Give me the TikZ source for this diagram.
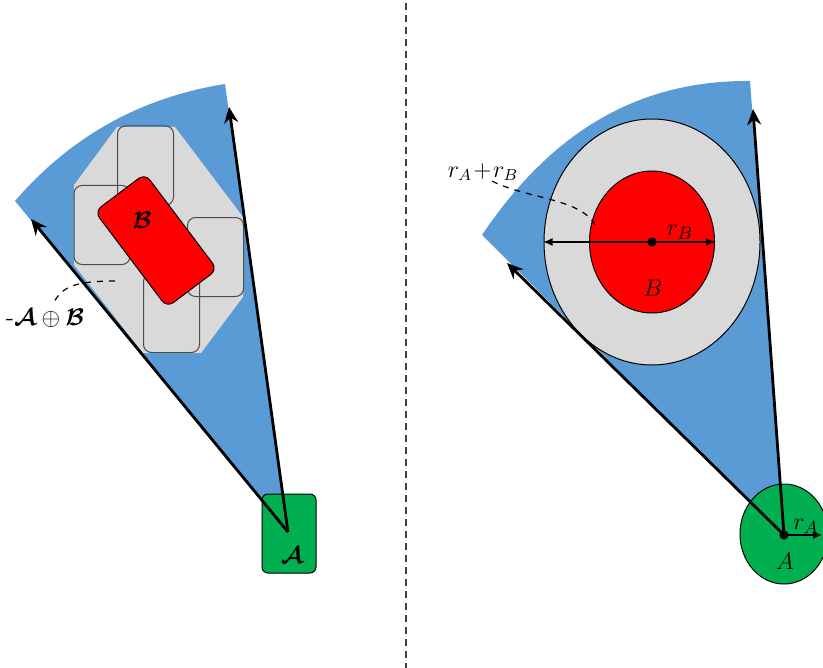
\documentclass[tikz,border=0pt]{standalone}
\usepackage{amsmath}
\usepackage{amssymb}
\usepackage{xcolor}
\usepackage{tikz}
\usetikzlibrary{shapes.geometric, arrows.meta, positioning, calc}

\definecolor{coneblue}{HTML}{5B9BD5}
\definecolor{sumgrey}{HTML}{D9D9D9}
\definecolor{obsred}{HTML}{FF0000}
\definecolor{agentgreen}{HTML}{00B050}

\begin{document}
\begin{tikzpicture}[
    x=0.5pt, y=-0.5pt,
    every node/.style={inner sep=0pt, font=\fontsize{12.5}{15}\selectfont},
    vec/.style={-{Stealth[length=8pt, width=7pt]}, line width=1.4pt},
    dim/.style={{Latex[length=4.5pt, width=4pt]}-{Latex[length=4.5pt, width=4pt]}, line width=0.6pt},
    lead/.style={dashed, line width=0.6pt},
    ghost/.style={draw=black!70, line width=0.5pt, rounded corners=4pt, minimum width=28pt, minimum height=39.5pt},
  ]
  \useasboundingbox (0,0) rectangle (823,668);

  % Left: velocity cone
  \coordinate (apexL) at (288,532);
  \coordinate (edgeL1) at (15,201);
  \coordinate (edgeL2) at (225,84);
  \fill[coneblue] (apexL) -- (edgeL1) .. controls (70.7,136.4) and (140.7,97.4) .. (edgeL2) -- cycle;

  % Minkowski sum
  \fill[sumgrey] (74,185) -- (117,127) -- (175,127) -- (243,217) -- (243,297)
    -- (201,353) -- (143,353) -- (74,265) -- cycle;
  \node[ghost] (ghostTop) at (145.5,165.5) {};
  \node[ghost] (ghostLeft) at (102,225) {};
  \node[ghost] (ghostRight) at (215.5,257) {};
  \node[ghost] (ghostBot) at (171.5,313) {};

  % Obstacle B
  \node[draw=black, line width=0.5pt, fill=obsred, rounded corners=4pt,
    minimum width=31.5pt, minimum height=60pt, rotate=37] (obsL) at (156,240.5) {};
  \node[font=\fontsize{13}{15}\selectfont] (labBL) at (142,220) {$\boldsymbol{\mathcal{B}}$};

  % Agent A
  \node[draw=black, line width=0.5pt, fill=agentgreen, rounded corners=3pt,
    minimum width=27pt, minimum height=39.5pt] (agentL) at (289,533.5) {};
  \node (labAL) at (292,555) {$\boldsymbol{\mathcal{A}}$};

  % Cone edges
  \coordinate (tipL1) at (229,107);
  \coordinate (tipL2) at (31,219);
  \draw[vec] (apexL) -- (tipL1);
  \draw[vec] (apexL) -- (tipL2);

  % Label
  \node (labMink) at (45,318) {-$\boldsymbol{\mathcal{A}}\oplus\boldsymbol{\mathcal{B}}$};
  \coordinate (leadL) at (120,281);
  \draw[lead] ([xshift=5pt, yshift=4pt]labMink.north) .. controls (65,283) and (85,281) .. (leadL);

  % Separator
  \draw[black!75, line width=0.6pt, dash pattern=on 3.5pt off 2.5pt] (406,3) -- (406,668);

  % Right: velocity cone
  \coordinate (apexR) at (784,535);
  \coordinate (edgeR1) at (482,235);
  \coordinate (edgeR2) at (750,81);
  \fill[coneblue] (apexR) -- (edgeR1) .. controls (546,140) and (630,80) .. (edgeR2) -- cycle;

  % Discs
  \node[draw, ellipse, line width=0.5pt, fill=sumgrey, minimum width=108pt, minimum height=123pt] (ringB) at (652,242) {};
  \node[draw, ellipse, line width=0.5pt, fill=obsred, minimum width=62.5pt, minimum height=71pt] (obsR) at (652,242) {};
  \node[draw, ellipse, line width=0.5pt, fill=agentgreen, minimum width=44pt, minimum height=50pt] (agentR) at (784,534) {};

  % Cone edges
  \coordinate (tipR1) at (753,109);
  \coordinate (tipR2) at (507,263);
  \draw[vec] (apexR) -- (tipR1);
  \draw[vec] (apexR) -- (tipR2);

  % Radii
  \draw[dim] (ringB.west) -- (obsR.east);
  \fill (obsR.center) circle (2.3pt);
  \fill (apexR) circle (2.3pt);
  \coordinate (rAend) at (822,535);
  \draw[-{Latex[length=4.5pt, width=4pt]}, line width=0.6pt] (apexR) -- (rAend);

  % Labels
  \node (labrB) at (680,232) {$r_B$};
  \node[font=\fontsize{13}{15}\selectfont] (labBR) at (653,288) {$B$};
  \node (labrA) at (806,526) {$r_A$};
  \node (labAR) at (785,561) {$A$};
  \node[font=\fontsize{11.5}{14}\selectfont] (labSum) at (483,172) {$r_A\!+\!r_B$};
  \coordinate (leadR) at (597,229);
  \draw[lead] ([xshift=4.5pt]labSum.south) .. controls (530,200) and (585,198) .. (leadR);
\end{tikzpicture}
\end{document}
